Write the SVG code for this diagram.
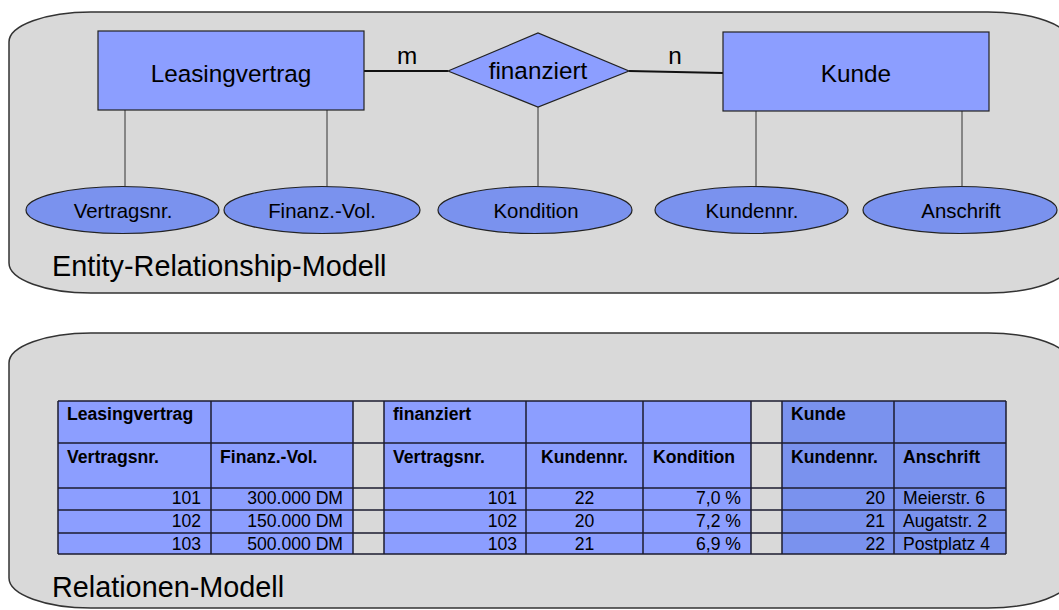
<svg xmlns="http://www.w3.org/2000/svg" width="1059" height="610" viewBox="0 0 1059 610">
<style>
.panel{fill:#d9d9d9;stroke:#333;stroke-width:1.5}
.ent{fill:#8c9eff;stroke:#222;stroke-width:1.2}
.attr{fill:#7a92ee;stroke:#222;stroke-width:1.2}
.t{font-family:"Liberation Sans",Arial,sans-serif;fill:#000}
.big{font-size:24.3px;text-anchor:middle}
.at{font-size:20.4px;text-anchor:middle}
.cap{font-size:28.8px}
.rel{stroke:#111;stroke-width:2;fill:none}
.al{stroke:#333;stroke-width:1;fill:none}
.th{font-family:"Liberation Sans",Arial,sans-serif;font-size:17.6px;font-weight:bold;fill:#000}
.td{font-family:"Liberation Sans",Arial,sans-serif;font-size:17.6px;fill:#000}
.r{text-anchor:end}
.c{text-anchor:middle}
.b1{fill:#8c9eff}
.b2{fill:#7a92ee}
.g{fill:#d9d9d9}
.grid{stroke:#1c1c30;stroke-width:1.5;fill:none}
</style>
<g id="panel-er">
<rect class="panel" x="9" y="12" width="1061" height="281" rx="82" ry="30"/>
<text class="t cap" x="52" y="276">Entity-Relationship-Modell</text>
</g>
<g id="panel-rel">
<rect class="panel" x="9" y="333" width="1061" height="275" rx="82" ry="30"/>
<text class="t cap" x="52" y="597">Relationen-Modell</text>
</g>
<g id="connectors">
<line class="rel" x1="364" y1="71" x2="448" y2="71"/>
<line class="rel" x1="629" y1="71" x2="723" y2="73"/>
<line class="al" x1="125" y1="110" x2="125" y2="186"/>
<line class="al" x1="327" y1="110" x2="327" y2="192"/>
<line class="al" x1="538" y1="107" x2="538" y2="186"/>
<line class="al" x1="756" y1="111" x2="756" y2="186"/>
<line class="al" x1="962" y1="111" x2="962" y2="186"/>
<text class="t big" x="407" y="64">m</text>
<text class="t big" x="675" y="64">n</text>
</g>
<g id="leasingvertrag">
<rect class="ent" x="98" y="31" width="266" height="79"/>
<text class="t big" x="231" y="82">Leasingvertrag</text>
</g>
<g id="finanziert">
<polygon class="ent" points="448,71 538,33 629,71 538,107"/>
<text class="t big" x="538" y="79">finanziert</text>
</g>
<g id="kunde">
<rect class="ent" x="723" y="32" width="266" height="79"/>
<text class="t big" x="856" y="82">Kunde</text>
</g>
<g id="attr-vertragsnr">
<ellipse class="attr" cx="122.5" cy="210" rx="96.5" ry="23.5"/>
<text class="t at" x="123" y="218">Vertragsnr.</text>
</g>
<g id="attr-finanzvol">
<ellipse class="attr" cx="322" cy="210" rx="98" ry="23.5"/>
<text class="t at" x="322" y="218">Finanz.-Vol.</text>
</g>
<g id="attr-kondition">
<ellipse class="attr" cx="535" cy="210" rx="97" ry="23.5"/>
<text class="t at" x="536" y="218">Kondition</text>
</g>
<g id="attr-kundennr">
<ellipse class="attr" cx="751.5" cy="210" rx="96.5" ry="23.5"/>
<text class="t at" x="752" y="218">Kundennr.</text>
</g>
<g id="attr-anschrift">
<ellipse class="attr" cx="960" cy="210" rx="97" ry="23.5"/>
<text class="t at" x="961" y="218">Anschrift</text>
</g>
<g id="table">
<rect class="b1" x="58" y="401" width="295" height="153"/>
<rect class="g" x="353" y="401" width="31" height="153"/>
<rect class="b1" x="384" y="401" width="367" height="153"/>
<rect class="g" x="751" y="401" width="31" height="153"/>
<rect class="b2" x="782" y="401" width="224" height="153"/>
<path class="grid" d="M58 401H1006M58 443H1006M58 488H1006M58 510H1006M58 533H1006M58 554H1006M58 401V554M211 401V554M353 401V554M384 401V554M526 401V554M643 401V554M751 401V554M782 401V554M894 401V554M1006 401V554"/>
<text class="th" x="67" y="420">Leasingvertrag</text>
<text class="th" x="393" y="420">finanziert</text>
<text class="th" x="791" y="420">Kunde</text>
<text class="th" x="67" y="463">Vertragsnr.</text>
<text class="th" x="220" y="463">Finanz.-Vol.</text>
<text class="th" x="393" y="463">Vertragsnr.</text>
<text class="th" x="541" y="463">Kundennr.</text>
<text class="th" x="653" y="463">Kondition</text>
<text class="th" x="791" y="463">Kundennr.</text>
<text class="th" x="903" y="463">Anschrift</text>
<text class="td r" x="201" y="504">101</text>
<text class="td r" x="343" y="504">300.000 DM</text>
<text class="td r" x="517" y="504">101</text>
<text class="td c" x="584.5" y="504">22</text>
<text class="td r" x="741" y="504">7,0 %</text>
<text class="td r" x="885" y="504">20</text>
<text class="td" x="903" y="504">Meierstr. 6</text>
<text class="td r" x="201" y="527">102</text>
<text class="td r" x="343" y="527">150.000 DM</text>
<text class="td r" x="517" y="527">102</text>
<text class="td c" x="584.5" y="527">20</text>
<text class="td r" x="741" y="527">7,2 %</text>
<text class="td r" x="885" y="527">21</text>
<text class="td" x="903" y="527">Augatstr. 2</text>
<text class="td r" x="201" y="549.5">103</text>
<text class="td r" x="343" y="549.5">500.000 DM</text>
<text class="td r" x="517" y="549.5">103</text>
<text class="td c" x="584.5" y="549.5">21</text>
<text class="td r" x="741" y="549.5">6,9 %</text>
<text class="td r" x="885" y="549.5">22</text>
<text class="td" x="903" y="549.5">Postplatz 4</text>
</g>
</svg>
